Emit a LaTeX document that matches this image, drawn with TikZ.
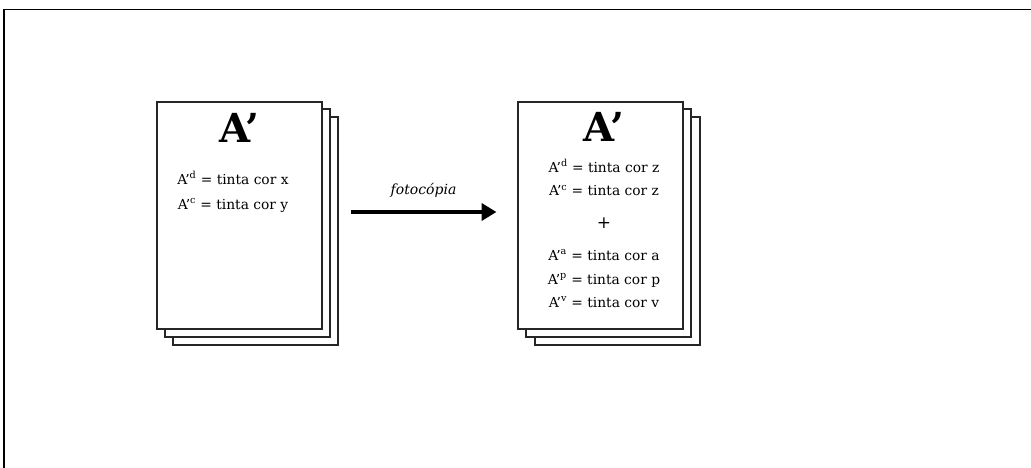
\documentclass[tikz,border=0pt]{standalone}
\usepackage{fontspec}
\setmainfont{DejaVu Serif}
\usetikzlibrary{arrows.meta}
\begin{document}
\begin{tikzpicture}[x=1pt,y=-1pt,
  sheet/.style={draw=black!85,line width=2pt,fill=white,minimum width=165pt,minimum height=227pt,inner sep=0pt},
  title/.style={font=\fontsize{40}{40}\selectfont\bfseries,anchor=base},
  eqline/.style={font=\fontsize{13.8}{14}\selectfont,anchor=base},
  flow/.style={line width=4.5pt,-{Triangle[length=15pt,width=17pt]}}]
  \useasboundingbox (0,0) rectangle (1031,468);
  % outer frame: top rule and left rule
  \draw[line width=1.6pt] (4,468) -- (4,9.5) -- (1031,9.5);
  % left stack of sheets
  \node[sheet] (l3) at (255,231) {};
  \node[sheet] (l2) at (247.5,223) {};
  \node[sheet] (l1) at (239.5,215.5) {};
  \node[title] (lt) at (239.5,143) {A’};
  \node[eqline] (lx) at (233,184) {A’\textsuperscript{d} = tinta cor x};
  \node[eqline] (ly) at (233,209) {A’\textsuperscript{c} = tinta cor y};
  % right stack of sheets
  \node[sheet] (r3) at (617,231) {};
  \node[sheet] (r2) at (608.5,223) {};
  \node[sheet] (r1) at (600,215.5) {};
  \node[title] (rt) at (604,142) {A’};
  \node[eqline] (rz1) at (604,172) {A’\textsuperscript{d} = tinta cor z};
  \node[eqline] (rz2) at (604,196) {A’\textsuperscript{c} = tinta cor z};
  \node[eqline,font=\fontsize{17}{17}\selectfont] (plus) at (604,228) {+};
  \node[eqline] (ra) at (604,260) {A’\textsuperscript{a} = tinta cor a};
  \node[eqline] (rp) at (604,284) {A’\textsuperscript{p} = tinta cor p};
  \node[eqline] (rv) at (604,307) {A’\textsuperscript{v} = tinta cor v};
  % copy arrow
  \coordinate (from) at (l3.east |- 0,212);
  \coordinate (to) at (r1.west |- 0,212);
  \draw[flow] ([xshift=12pt]from) -- ([xshift=-20pt]to)
    node[midway,above=9pt,font=\fontsize{14}{14}\selectfont\itshape] (lab) {fotocópia};
\end{tikzpicture}
\end{document}
